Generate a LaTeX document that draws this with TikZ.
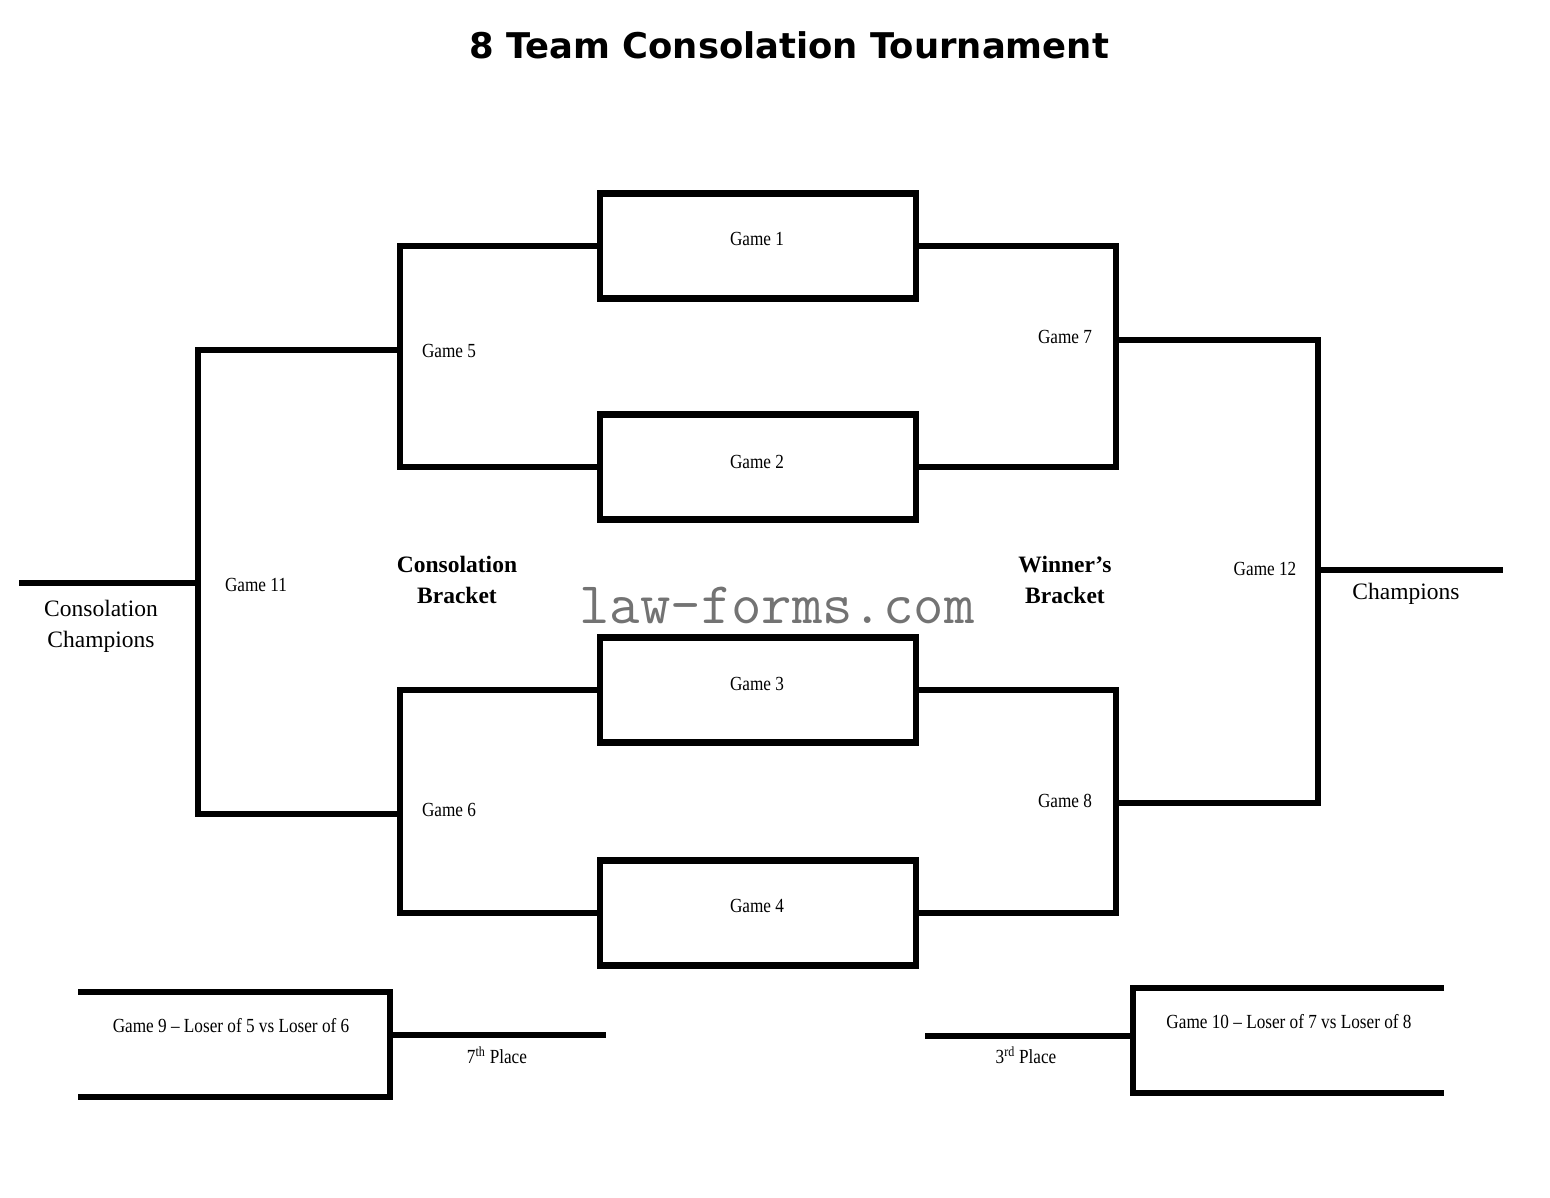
\documentclass[tikz,border=0pt]{standalone}
\usepackage{fontspec}
\setmainfont{Liberation Serif}
\newfontfamily\gamefont{Liberation Serif}[FakeStretch=0.86]
\newfontfamily\headfont{DejaVu Sans}
\begin{document}
\begin{tikzpicture}[x=1pt,y=-1pt,line width=6.5pt,
	gamebox/.style={draw,minimum width=316pt,minimum height=105pt,inner sep=0pt,outer sep=0pt},
	gamelbl/.style={font=\gamefont\fontsize{20}{24}\selectfont,inner sep=0pt},
	bigtxt/.style={font=\fontsize{23.5}{31}\selectfont,align=center,inner sep=0pt}]
				\useasboundingbox (0,0) rectangle (1550,1198);
				\node[font=\headfont\bfseries\fontsize{35.4}{42}\selectfont] (title) at (789,45) {8 Team Consolation Tournament};
				% first round
				\node[gamebox] (g1) at (758,246) {};
				\node[gamebox] (g2) at (758,467) {};
				\node[gamebox] (g3) at (758,690) {};
				\node[gamebox] (g4) at (758,913) {};
				\node[gamelbl] (l1) at (757,239) {Game 1};
				\node[gamelbl] (l2) at (757,462) {Game 2};
				\node[gamelbl] (l3) at (757,684) {Game 3};
				\node[gamelbl] (l4) at (757,906) {Game 4};
				% joints
				\coordinate (j5) at (400,350);
				\coordinate (j6) at (400,814);
				\coordinate (j7) at (1116,340);
				\coordinate (j8) at (1116,803);
				\coordinate (c11) at (198,583);
				\coordinate (c12) at (1318,570);
				\coordinate (cons) at (19,583);
				\coordinate (champ) at (1503,570);
				\draw (g1.west) -| (j5) |- (g2.west);
				\draw (g3.west) -| (j6) |- (g4.west);
				\draw (j5) -| (c11) |- (j6);
				\draw (c11) -- (cons);
				\draw (g1.east) -| (j7) |- (g2.east);
				\draw (g3.east) -| (j8) |- (g4.east);
				\draw (j7) -| (c12) |- (j8);
				\draw (c12) -- (champ);
				\node[gamelbl] (l5) at (449,351) {Game 5};
				\node[gamelbl] (l6) at (449,810) {Game 6};
				\node[gamelbl] (l7) at (1065,337) {Game 7};
				\node[gamelbl] (l8) at (1065,801) {Game 8};
				\node[gamelbl] (l11) at (256,585) {Game 11};
				\node[gamelbl] (l12) at (1265,569) {Game 12};
				\node[bigtxt] (ccl) at (101,626) {Consolation\\Champions};
				\node[bigtxt] (chl) at (1406,594) {Champions};
				\node[bigtxt,font=\bfseries\fontsize{23.5}{31}\selectfont] (cb) at (457,580) {Consolation\\Bracket};
				\node[bigtxt,font=\bfseries\fontsize{23.5}{31}\selectfont] (wb) at (1065,580) {Winner’s\\Bracket};
				\node[font=\ttfamily\fontsize{59}{59}\selectfont,text=black!55,inner sep=0pt] (mark) at (777,605) {law-forms.com};
				% 7th and 3rd place
				\coordinate (g9t) at (78,992);
				\coordinate (g9b) at (78,1097);
				\coordinate (j9) at (390,1035);
				\coordinate (p7) at (606,1035);
				\coordinate (g10t) at (1444,988);
				\coordinate (g10b) at (1444,1093);
				\coordinate (j10) at (1133,1036);
				\coordinate (p3) at (925,1036);
				\draw (g9t) -| (j9) |- (g9b);
				\draw (j9) -- (p7);
				\draw (g10t) -| (j10) |- (g10b);
				\draw (j10) -- (p3);
				\node[gamelbl] (l9) at (231,1026) {Game 9 – Loser of 5 vs Loser of 6};
				\node[gamelbl] (l10) at (1289,1022) {Game 10 – Loser of 7 vs Loser of 8};
				\node[gamelbl] (l7p) at (497,1055) {7\textsuperscript{th} Place};
				\node[gamelbl] (l3p) at (1026,1055) {3\textsuperscript{rd} Place};
			\end{tikzpicture}
\end{document}
